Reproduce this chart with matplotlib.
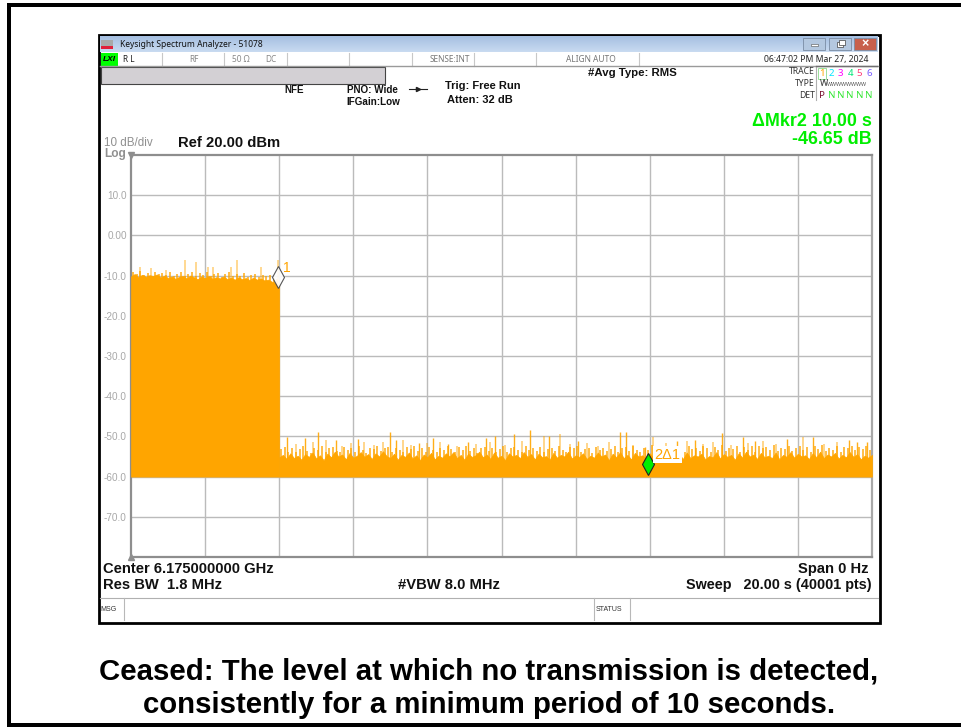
import numpy as np
import matplotlib
matplotlib.use('Agg')
import matplotlib.pyplot as plt
from matplotlib.patches import Rectangle

plt.rcParams['font.family'] = ['Liberation Sans', 'DejaVu Sans']

block_db = [-10.2, -9.6, -10.4, -9.8, -10.3, -9.9, -10.1, -9.7, -10.5, -10.0,
            -10.6, -10.2, -10.8, -10.3, -10.1, -10.7, -10.0, -10.4, -10.9, -10.2,
            -10.6, -10.1, -10.8, -10.4, -10.7, -10.2, -10.9, -10.5, -11.0, -10.4,
            -10.9, -10.6, -11.1, -10.5, -11.0, -10.7, -11.2, -11.0, -11.5, -11.9, -12.3]
floor_db = [-55.2, -54.6, -55.6, -54.2, -55.4, -54.8, -55.8, -54.4, -55.1, -54.0,
            -55.5, -54.7, -55.9, -54.3, -55.2, -53.8, -55.0, -54.5, -55.7, -54.1,
            -55.3, -54.8, -53.9, -55.1, -54.4, -55.6, -54.2, -55.0, -53.7, -54.9,
            -55.4, -54.3, -55.8, -54.6, -55.1, -54.0, -55.5, -54.7, -55.9, -54.5,
            -55.2, -54.1, -55.7, -54.8, -55.3, -54.2, -55.0, -53.9, -55.4, -54.6,
            -55.8, -54.3, -55.1, -54.7, -53.8, -55.2, -54.5, -55.6, -54.0, -55.3,
            -54.8, -55.9, -54.2, -55.0, -54.6, -55.4, -53.9, -55.1, -54.4, -55.7,
            -54.3, -55.2, -54.9, -55.8, -54.1, -55.3, -54.6, -55.0, -53.8, -55.5,
            -54.7, -55.1, -54.2, -55.6, -54.8, -55.3, -54.0, -55.0, -54.5, -55.9,
            -54.3, -55.2, -53.9, -55.4, -54.6, -55.7, -54.1, -55.0, -54.7, -55.5,
            -54.2, -55.3, -54.8, -55.8, -54.4, -55.1, -53.7, -55.2, -54.5, -55.6,
            -54.0, -55.4, -54.7, -55.0, -54.3, -55.7, -54.9, -55.2, -53.9, -55.5,
            -54.4, -55.1, -54.6, -55.8, -54.2, -55.3, -53.8, -55.0, -54.5, -55.6,
            -54.1, -55.2, -54.8, -55.4, -54.0, -55.7, -54.6, -55.1, -53.9, -55.3,
            -54.3, -55.0, -54.7, -55.6, -54.2, -55.2, -53.8, -55.4, -54.5, -55.0,
            -54.1, -55.5, -54.6, -55.2, -53.9, -55.1, -54.4, -55.7, -54.8, -55.3, -54.6]
floor_bottom = -60.0

# Second pass of peaks, half way between the body samples
block_mid_db = [-9.0, -9.6, -8.9, -9.9, -9.3, -10.0, -9.1, -9.7, -9.4, -9.9,
                -9.2, -10.1, -9.5, -9.0, -10.0, -9.6, -9.2, -10.2, -9.4, -9.8,
                -9.1, -10.0, -9.6, -9.3, -10.3, -9.7, -9.2, -10.1, -9.5, -10.0,
                -9.4, -10.3, -9.8, -9.6, -10.4, -9.9, -10.2, -9.8, -10.6, -10.8]
floor_mid_db = [-53.2, -52.6, -53.8, -52.9, -54.0, -53.1, -52.5, -53.6, -54.1, -52.8,
                -53.4, -52.4, -53.9, -53.0, -52.7, -53.7, -54.0, -52.6, -53.3, -52.9,
                -53.8, -52.5, -53.5, -54.1, -52.8, -53.2, -52.3, -53.7, -53.0, -52.6,
                -53.9, -52.9, -53.4, -54.0, -52.7, -53.1, -52.4, -53.6, -52.9, -53.8,
                -52.6, -53.3, -54.0, -52.8, -53.5, -52.5, -53.1, -53.9, -52.7, -53.4,
                -52.3, -53.7, -52.9, -54.1, -53.0, -52.6, -53.6, -52.8, -53.9, -53.2,
                -52.5, -53.8, -53.0, -52.7, -53.5, -54.0, -52.4, -53.3, -52.9, -53.7,
                -52.6, -54.0, -53.1, -52.8, -53.6, -52.5, -53.4, -53.9, -52.7, -53.0,
                -52.3, -53.8, -53.2, -52.9, -54.1, -52.6, -53.5, -52.8, -53.7, -53.1,
                -52.4, -53.9, -53.0, -52.7, -53.6, -52.5, -53.3, -54.0, -52.8, -53.4,
                -52.2, -53.7, -52.9, -53.1, -52.6, -53.8, -52.4, -53.5, -52.7, -53.9,
                -52.3, -53.2, -52.8, -53.6, -52.5, -53.0, -54.0, -52.6, -53.4, -52.2,
                -53.7, -52.9, -53.1, -52.4, -53.8, -52.7, -53.3, -52.5, -53.9, -52.3,
                -53.0, -52.6, -53.5, -52.2, -53.7, -52.8, -53.2, -52.4, -53.6, -52.9,
                -52.3, -53.4, -52.7, -53.8, -52.5, -53.1, -52.2, -53.6, -52.8, -53.3,
                -52.4, -53.9, -52.6, -53.0, -52.3, -53.5, -52.7, -53.2, -52.5, -53.4]

block_peak_t = [0.25, 0.55, 0.95, 1.45, 1.75, 2.08, 2.2, 2.7, 2.87, 3.5, 3.98]
block_peak_db = [-7.8, -8.2, -8.6, -6.0, -6.5, -7.8, -7.8, -7.8, -6.0, -7.8, -6.0]

spike_t = [4.21, 4.70, 5.05, 5.53, 6.13, 6.99, 7.15, 7.77, 8.15, 8.56, 9.10, 9.58, 9.82, 10.34,
           10.77, 11.28, 12.06, 13.20, 13.36, 13.87, 14.74, 15.22, 15.95, 16.52, 16.84,
           17.71, 18.41, 19.38, 19.60, 19.87]
spike_db = [-50.2, -50.5, -49.0, -51.0, -50.7, -49.0, -50.9, -51.7, -50.5, -52.0, -51.5, -50.5,
            -50.0, -49.3, -48.5, -50.0, -51.2, -48.8, -48.8, -52.7, -51.2, -50.9, -49.2,
            -50.2, -51.2, -50.7, -50.2, -51.0, -51.5, -51.5]
faint_t = [4.45, 4.9, 5.25, 5.7, 5.95, 6.3, 6.55, 6.8, 7.35, 7.55, 8.0, 8.35, 8.8, 9.3, 9.7, 10.1,
           10.55, 11.15, 11.58, 11.85, 12.3, 12.6, 12.9, 13.55, 14.09, 14.45, 15.0, 15.45, 15.7,
           16.2, 16.65, 17.05, 17.4, 18.14, 18.7, 19.05]
faint_db = [-52.0, -51.5, -51.0, -52.3, -51.7, -51.3, -52.1, -51.5, -50.9, -52.2, -51.6, -51.4,
            -52.3, -51.8, -51.5, -52.1, -51.2, -50.0, -49.3, -51.9, -51.7, -52.3, -51.5, -52.1,
            -50.2, -51.6, -51.2, -52.0, -51.4, -52.2, -51.7, -51.1, -51.9, -50.2, -51.8, -51.5]

y_ticks = [10, 0, -10, -20, -30, -40, -50, -60, -70]
y_tick_labels = ['10.0', '0.00', '-10.0', '-20.0', '-30.0', '-40.0', '-50.0', '-60.0', '-70.0']
marker_t = [3.96, 13.96]
marker_db = [-10.25, -56.9]

W, H = 961, 727
ORANGE = '#FFA500'
fig = plt.figure(figsize=(W / 100, H / 100), dpi=100, facecolor='white')

# Overlay in pixel coordinates for the instrument window
bg = fig.add_axes([0, 0, 1, 1], zorder=0)
bg.set_xlim(0, W)
bg.set_ylim(H, 0)
bg.axis('off')


def px_text(x, y, s, size=6.0, color='#111111', weight='normal', ha='left', va='center', **kw):
    bg.text(x, y, s, fontsize=size, color=color, fontweight=weight, ha=ha, va=va, **kw)


# Page frame
bg.add_patch(Rectangle((7, 3), W - 7, 4, fc='black', ec='none'))
bg.add_patch(Rectangle((7, 3), 4, H - 3, fc='black', ec='none'))
bg.add_patch(Rectangle((7, 723), W - 7, 4, fc='black', ec='none'))

# Window frame and title bar
bg.add_patch(Rectangle((98.5, 34.5), 781, 588, fc='white', ec='black', lw=2))
grad = np.linspace(0, 1, 16).reshape(-1, 1)
bg.imshow(grad, extent=(100, 878, 52, 36), aspect='auto', cmap=matplotlib.colors.LinearSegmentedColormap.from_list(
    'bar', ['#A6C0E2', '#C8DAF0']), zorder=1)
bg.set_xlim(0, W)
bg.set_ylim(H, 0)
bg.add_patch(Rectangle((101, 40), 12, 6, fc='#A8A8A8', ec='none', zorder=2))
bg.add_patch(Rectangle((101, 46), 12, 3, fc='#E0203A', ec='none', zorder=2))
px_text(120, 44.5, 'Keysight Spectrum Analyzer - 51078', size=6.1, color='#111111', family='Noto Sans', zorder=3)
for x0, w0, col in [(803, 22, '#B4C8E0'), (829, 22, '#B4C8E0'), (854, 22, '#C8604C')]:
    bg.add_patch(Rectangle((x0, 38), w0, 12, fc=col, ec='#7A8CA4', lw=0.6, zorder=2))
bg.add_patch(Rectangle((811, 44), 7, 2, fc='white', ec='#505050', lw=0.4, zorder=3))
bg.add_patch(Rectangle((837, 42), 6, 5, fc='white', ec='#404040', lw=0.5, zorder=3))
bg.add_patch(Rectangle((839, 40), 6, 5, fc='white', ec='#404040', lw=0.5, zorder=3))
px_text(865, 44, '×', size=9, color='white', weight='bold', ha='center', zorder=3)

# Status row
bg.add_patch(Rectangle((101, 53), 17, 13, fc='#00FF00', ec='none'))
px_text(109.5, 59.5, 'LXI', size=6, color='black', weight='bold', ha='center', style='italic')
px_text(123, 59, 'R L', size=6, color='#222222', family='Noto Sans')
px_text(194, 59.5, 'RF', size=6, color='#888888', ha='center', family='Noto Sans')
px_text(241, 59.5, '50 Ω', size=6, color='#888888', ha='center', family='Noto Sans')
px_text(271, 59.5, 'DC', size=6, color='#888888', ha='center', family='Noto Sans')
px_text(450, 59.5, 'SENSE:INT', size=6, color='#777777', ha='center', family='Noto Sans')
px_text(591, 59.5, 'ALIGN AUTO', size=6, color='#777777', ha='center', family='Noto Sans')
px_text(869, 59.5, '06:47:02 PM Mar 27, 2024', size=6.2, color='#222222', ha='right', family='Noto Sans')
for x0 in [162, 224, 287, 349, 412, 474, 536, 639]:
    bg.plot([x0, x0], [53, 66], color='#C8C8C8', lw=0.8)
bg.plot([100, 878], [66, 66], color='#9A9A9A', lw=1)
bg.add_patch(Rectangle((101, 67), 284, 16.5, fc='#D3D0D4', ec='#444444', lw=0.8))

# Settings block
px_text(294, 90, 'NFE', size=7.1, weight='bold', ha='center')
px_text(347, 90, 'PNO: Wide', size=7.1, weight='bold')
px_text(346, 102, 'IFGain:Low', size=7.1, weight='bold')
px_text(445, 86, 'Trig: Free Run', size=8, weight='bold')
px_text(447, 100, 'Atten: 32 dB', size=8, weight='bold')
bg.plot([409, 427], [89, 89], color='#222222', lw=0.8)
bg.plot([418], [89], marker='>', ms=3, color='#222222')
px_text(632, 73, '#Avg Type: RMS', size=8.2, weight='bold', ha='center')

# Trace legend
px_text(815, 72, 'TRACE', size=6.2, color='#333333', ha='right', family='Noto Sans')
px_text(815, 84, 'TYPE', size=6.2, color='#333333', ha='right', family='Noto Sans')
px_text(815, 95.5, 'DET', size=6.2, color='#333333', ha='right', family='Noto Sans')
trace_cols = ['#FFA500', '#00E5FF', '#FF00FF', '#00E676', '#FF3C78', '#7A5CFF']
for i, c in enumerate(trace_cols):
    px_text(822 + i * 9.4, 73.5, str(i + 1), size=7, color=c, ha='center', family='Noto Sans')
bg.add_patch(Rectangle((818, 68), 8, 11, fc='none', ec='#9ADF9A', lw=0.7))
px_text(820, 84, 'W', size=6.4, color='#333333', ha='left', family='Noto Sans')
px_text(827, 84, 'WWWWWWWW', size=3.9, color='#555555', ha='left', family='Noto Sans')
px_text(822, 95, 'P', size=7, color='#7A1030', ha='center', family='Noto Sans')
for i in range(1, 6):
    px_text(822 + i * 9.4, 95, 'N', size=7, color='#33E633', ha='center', family='Noto Sans')
bg.plot([816, 816], [66, 100], color='#B0B0B0', lw=0.8)
bg.plot([816, 877], [66, 66], color='#707070', lw=1)

# Marker readout
px_text(872, 121, 'ΔMkr2 10.00 s', size=12.9, color='#00EE00', weight='bold', ha='right')
px_text(872, 139, '-46.65 dB', size=12.9, color='#00EE00', weight='bold', ha='right')

# Scale text
px_text(104, 143.5, '10 dB/div', size=8.4, color='#909090')
px_text(104, 154, 'Log', size=8.6, color='#909090', weight='bold')
px_text(178, 143, 'Ref 20.00 dBm', size=10.6, weight='bold')

# Bottom info
px_text(103, 569, 'Center 6.175000000 GHz', size=10.6, weight='bold')
px_text(103, 585, 'Res BW  1.8 MHz', size=10.6, weight='bold')
px_text(398, 585, '#VBW 8.0 MHz', size=10.6, weight='bold')
px_text(869, 569, 'Span 0 Hz', size=10.6, weight='bold', ha='right')
px_text(872, 585, 'Sweep   20.00 s (40001 pts)', size=10.4, weight='bold', ha='right')
bg.plot([100, 878], [598, 598], color='#B0B0B0', lw=0.8)
bg.plot([124, 124], [598, 620], color='#B8B8B8', lw=0.8)
bg.plot([594, 594], [598, 620], color='#B8B8B8', lw=0.8)
bg.plot([630, 630], [598, 620], color='#B8B8B8', lw=0.8)
px_text(100.5, 609.5, 'MSG', size=5, color='#333333')
px_text(595.5, 609.5, 'STATUS', size=5, color='#333333')

# Caption
px_text(489, 672, 'Ceased: The level at which no transmission is detected,', size=21.2, color='black',
        weight='bold', ha='center', family='Liberation Sans')
px_text(489, 705, 'consistently for a minimum period of 10 seconds.', size=21.2, color='black',
        weight='bold', ha='center', family='Liberation Sans')

# Analyzer plot
left, right, top, bottom = 131, 872, 155, 557
ax = fig.add_axes([left / W, 1 - bottom / H, (right - left) / W, (bottom - top) / H], zorder=2)
ax.patch.set_alpha(0)
ax.set_xlim(0, 20)
ax.set_ylim(-80, 20)
ax.set_xticks(np.arange(2, 20, 2))
ax.set_xticklabels([])
ax.set_yticks(y_ticks)
ax.set_yticklabels(y_tick_labels, fontsize=7.2, color='#A8A8A8')
ax.tick_params(length=0, pad=3)
ax.grid(True, color='#BBBBBB', lw=1)
ax.set_axisbelow(True)
for name, sp in ax.spines.items():
    sp.set_color('#8E8E8E' if name in ('left', 'top', 'bottom') else '#A8A8A8')
    sp.set_linewidth(1.6)

t_block = np.arange(len(block_db)) * 0.1
t_floor = 4.0 + np.arange(len(floor_db)) * 0.1
t_block_mid = 0.05 + np.arange(len(block_mid_db)) * 0.1
t_floor_mid = 4.05 + np.arange(len(floor_mid_db)) * 0.1
ax.fill_between(t_block, floor_bottom, block_db, color=ORANGE, lw=0.5, zorder=3)
ax.fill_between(t_floor, floor_bottom, floor_db, color=ORANGE, lw=0.5, zorder=3)
ax.vlines(t_block_mid, -14, block_mid_db, color=ORANGE, lw=1.2, alpha=0.85, zorder=2.9)
ax.vlines(t_floor_mid, -56, floor_mid_db, color=ORANGE, lw=1.2, alpha=0.85, zorder=2.9)
ax.vlines(block_peak_t, -14, block_peak_db, color=ORANGE, lw=1.2, alpha=0.5, zorder=2.9)
ax.vlines(spike_t, -56, spike_db, color=ORANGE, lw=1, alpha=0.9, zorder=2.9)
ax.vlines(faint_t, -56, faint_db, color=ORANGE, lw=1.4, alpha=0.45, zorder=2.9)

# Markers
ax.plot(marker_t[0], marker_db[0], marker='d', ms=11, mfc='white', mec='#444444', mew=0.8, zorder=5, alpha=0.9)
ax.plot(marker_t[1], marker_db[1], marker='d', ms=11, mfc='#00EE00', mec='#222222', mew=0.8, zorder=5)
ax.text(marker_t[0] + 0.15, marker_db[0] + 2.2, '1', color=ORANGE, fontsize=10, va='center', zorder=6)
ax.text(marker_t[1] + 0.16, marker_db[1] + 2.3, '2Δ1', color=ORANGE, fontsize=10.5, va='center', zorder=6,
        bbox=dict(fc='white', ec='none', pad=1))

# Small triangles at top and bottom of the left axis
ax.plot([0], [20], marker='v', ms=4, color='#8E8E8E', clip_on=False, zorder=6)
ax.plot([0], [-80], marker='^', ms=4, color='#8E8E8E', clip_on=False, zorder=6)

fig.savefig('out.png', dpi=100)
